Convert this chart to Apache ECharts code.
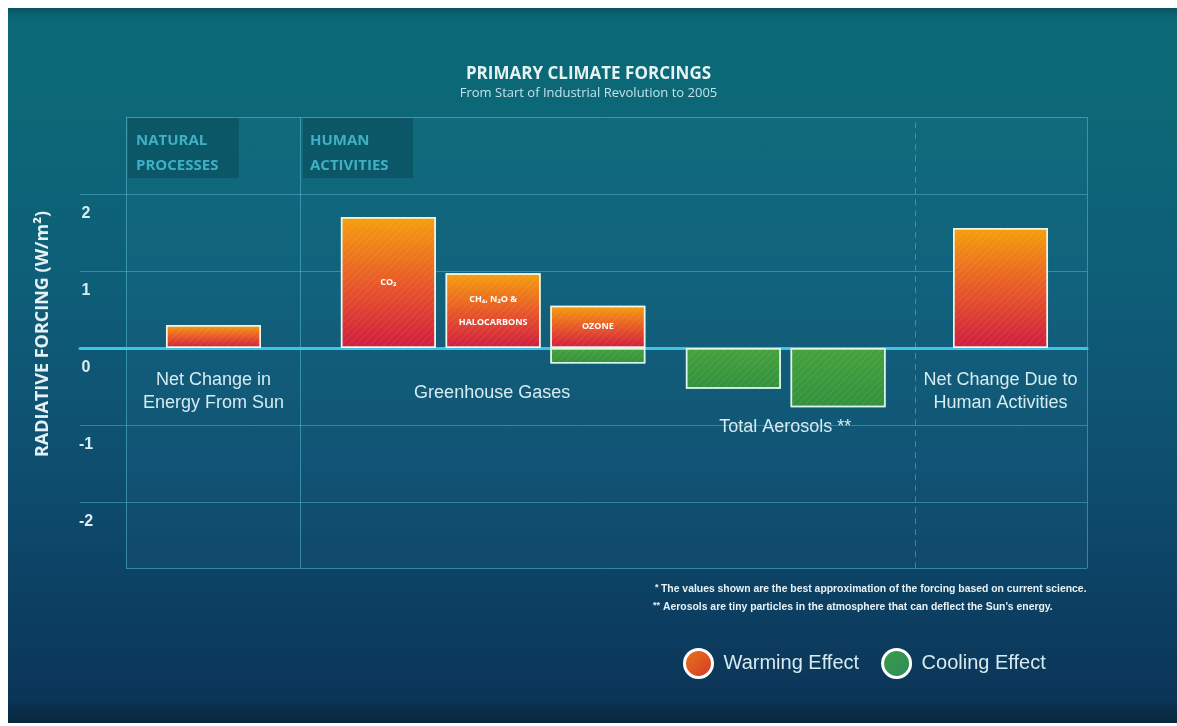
<!DOCTYPE html>
<html>
<head>
<meta charset="utf-8">
<title>Primary Climate Forcings</title>
<script src="https://cdn.jsdelivr.net/npm/echarts@6/dist/echarts.min.js"></script>
<style>
  html, body { margin: 0; padding: 0; background: #ffffff; }
  #wrap { position: relative; width: 1177px; height: 726px; overflow: hidden; }
  #bg {
    position: absolute; left: 8px; top: 8px; right: 0; bottom: 3px;
    background: linear-gradient(180deg, #0a5262 0px, #0b6876 10px, #0c6876 90px,
      #0e5e78 280px, #0e4f70 450px, #0c3f62 600px, #0b3558 690px, #08283f 712px);
  }
  #chart { position: absolute; left: 0; top: 0; width: 1177px; height: 726px; }
</style>
</head>
<body>
<div id="wrap"><div id="bg"></div><div id="chart"></div></div>
<script>
// ---- data -------------------------------------------------------------
// Forcing components, left to right
const forcings   = ['Sun', 'CO2', 'CH4, N2O & halocarbons', 'Ozone', 'Aerosols (direct)', 'Aerosols (cloud)', 'Net human'];
// Text printed inside each bar
const barLabels  = ['', 'CO₂', 'CH₄, N₂O &\nHALOCARBONS', 'OZONE', '', '', ''];
// Radiative forcing, W/m²: warming (positive) and cooling (negative) parts
const warming    = [0.30, 1.70, 0.97, 0.55, null, null, 1.56];
const cooling    = [null, null, null, -0.20, -0.53, -0.77, null];
// Group captions under the bars
const groupLabels = ['Net Change in\nEnergy From Sun', 'Greenhouse Gases', 'Total Aerosols **', 'Net Change Due to\nHuman Activities'];
// Value-axis tick labels
const yTickLabels = ['-2', '-1', '0', '1', '2'];

// ---- layout (x measured in percent of the panel width) ----------------
const barSlots    = [9.1, 27.3, 38.2, 49.1, 63.2, 74.1, 91.0];
const groupSlots  = [[9.1, -0.56], [38.1, -0.58], [68.6, -1.03], [91.0, -0.56]];
const panel       = { x0: 0, x1: 100, y0: -2.86, y1: 3 };
const humanDivider = 18.1;
const netDivider   = 82.1;

const FONT = "'Liberation Sans Narrow', 'Liberation Sans', sans-serif";
const GRID_C = 'rgba(96, 196, 222, 0.45)';

const warmFill = new echarts.graphic.LinearGradient(0, 0, 0, 1, [
  { offset: 0, color: '#f5a00c' },
  { offset: 0.5, color: '#e85a28' },
  { offset: 1, color: '#d01c40' }
]);
const coolFill = new echarts.graphic.LinearGradient(0, 0, 0, 1, [
  { offset: 0, color: '#46a23c' },
  { offset: 1, color: '#33913e' }
]);
const hatch = {
  symbol: 'rect', symbolSize: 1, dashArrayX: [1, 0], dashArrayY: [1, 4],
  rotation: -Math.PI / 4, color: 'rgba(255,255,255,0.08)'
};

function barData(values) {
  const out = [];
  values.forEach((v, i) => {
    if (v !== null) out.push({ name: barLabels[i], value: [barSlots[i], v] });
  });
  return out;
}

const chart = echarts.init(document.getElementById('chart'), null, { renderer: 'canvas' });

const option = {
  backgroundColor: 'transparent',
  animation: false,
  title: {
    text: 'PRIMARY CLIMATE FORCINGS',
    subtext: 'From Start of Industrial Revolution to 2005',
    left: 'center', top: 61, itemGap: 4,
    textStyle: { color: '#e6f3f4', fontSize: 17, fontWeight: 'bold', fontFamily: "'Open Sans', sans-serif" },
    subtextStyle: { color: '#c4e2e8', fontSize: 13, fontFamily: "'Open Sans', sans-serif" }
  },
  legend: {
    left: 678, top: 643, itemWidth: 28, itemHeight: 28, itemGap: 22,
    icon: 'circle',
    textStyle: { color: '#d6eaf0', fontSize: 20, fontFamily: FONT, padding: [0, 0, 0, 6] },
    data: [
      { name: 'Warming Effect', itemStyle: { color: new echarts.graphic.LinearGradient(0, 0, 1, 1, [{ offset: 0, color: '#ea7a14' }, { offset: 1, color: '#d2342c' }]), borderColor: '#ffffff', borderWidth: 3, decal: 'none' } },
      { name: 'Cooling Effect', itemStyle: { color: new echarts.graphic.LinearGradient(0, 0, 1, 1, [{ offset: 0, color: '#3e9a40' }, { offset: 1, color: '#2a8c62' }]), borderColor: '#ffffff', borderWidth: 3, decal: 'none' } }
    ]
  },
  grid: { left: 80, right: 90, top: 117, bottom: 147, containLabel: false },
  xAxis: {
    type: 'value', min: -4.79, max: 100,
    axisLine: { onZero: true, lineStyle: { color: '#3cc6e6', width: 3 } },
    axisTick: { show: false }, axisLabel: { show: false }, splitLine: { show: false }
  },
  yAxis: {
    type: 'value', min: -3, max: 3, interval: 1,
    axisLine: { show: false }, axisTick: { show: false },
    axisLabel: {
      inside: true, margin: 6, align: 'center', verticalAlign: 'top',
      padding: [12, 0, 0, 0], lineHeight: 16,
      color: '#d9edf2', fontSize: 16, fontWeight: 'bold', fontFamily: FONT,
      formatter: v => (yTickLabels.indexOf(String(v)) >= 0 ? String(v) : '')
    },
    splitLine: { show: true, showMinLine: false, showMaxLine: false, lineStyle: { color: GRID_C, width: 1 } }
  },
  graphic: [
    // panel headers
    { type: 'rect', left: 128, top: 118, shape: { width: 111, height: 60 }, style: { fill: 'rgba(4, 40, 56, 0.32)' }, silent: true },
    { type: 'rect', left: 303, top: 118, shape: { width: 110, height: 60 }, style: { fill: 'rgba(4, 40, 56, 0.32)' }, silent: true },
    { type: 'text', left: 136, top: 128, style: { text: 'NATURAL\nPROCESSES', fill: '#3fb2c4', font: "bold 15px 'Open Sans', sans-serif", lineHeight: 25 }, silent: true },
    { type: 'text', left: 310, top: 128, style: { text: 'HUMAN\nACTIVITIES', fill: '#3fb2c4', font: "bold 15px 'Open Sans', sans-serif", lineHeight: 25 }, silent: true },
    // value axis title
    { type: 'text', x: 43, y: 334, rotation: Math.PI / 2,
      style: { text: 'RADIATIVE FORCING (W/m²)', fill: '#e4f1f4', font: "bold 18px 'Open Sans', sans-serif", align: 'center', verticalAlign: 'middle' }, silent: true },
    // footnotes
    { type: 'text', left: 655, top: 583, style: { text: '*', fill: '#e8f2f4', font: "bold 9px " + FONT }, silent: true },
    { type: 'text', left: 661, top: 584, style: { text: 'The values shown are the best approximation of the forcing based on current science.', fill: '#e8f2f4', font: "bold 10.4px " + FONT }, silent: true },
    { type: 'text', left: 653, top: 601, style: { text: '**', fill: '#e8f2f4', font: "bold 9px " + FONT }, silent: true },
    { type: 'text', left: 663, top: 602, style: { text: "Aerosols are tiny particles in the atmosphere that can deflect the Sun's energy.", fill: '#e8f2f4', font: "bold 10.4px " + FONT }, silent: true }
  ],
  series: [
    {
      name: 'Warming Effect', type: 'bar', barWidth: 95, barGap: '-100%', z: 3,
      itemStyle: { color: warmFill, borderColor: 'rgba(240,246,232,0.92)', borderWidth: 1.5, decal: hatch },
      label: { show: true, position: 'inside', formatter: '{b}', color: '#ffffff', fontSize: 9, fontWeight: 'bold', lineHeight: 23, fontFamily: "'Open Sans', sans-serif" },
      data: barData(warming)
    },
    {
      name: 'Cooling Effect', type: 'bar', barWidth: 95, barGap: '-100%', z: 3,
      itemStyle: { color: coolFill, borderColor: 'rgba(220,246,232,0.92)', borderWidth: 1.5, decal: hatch },
      label: { show: false },
      data: barData(cooling)
    },
    {
      // panel frame, section dividers and group captions
      name: 'frame', type: 'scatter', data: [], z: 1, silent: true,
      markArea: {
        silent: true,
        itemStyle: { color: 'rgba(70, 170, 210, 0.06)' },
        data: [[{ coord: [panel.x0, panel.y0] }, { coord: [panel.x1, panel.y1] }]]
      },
      markLine: {
        silent: true, symbol: ['none', 'none'], label: { show: false },
        lineStyle: { color: 'rgba(96, 196, 222, 0.5)', width: 1, type: 'solid' },
        data: [
          [{ coord: [panel.x0, panel.y0] }, { coord: [panel.x0, panel.y1] }],
          [{ coord: [panel.x1, panel.y0] }, { coord: [panel.x1, panel.y1] }],
          [{ coord: [panel.x0, panel.y1] }, { coord: [panel.x1, panel.y1] }],
          [{ coord: [panel.x0, panel.y0] }, { coord: [panel.x1, panel.y0] }],
          [{ coord: [humanDivider, panel.y0] }, { coord: [humanDivider, panel.y1] }],
          [{ coord: [netDivider, panel.y0], lineStyle: { type: [6, 5], color: 'rgba(120, 205, 225, 0.45)' } }, { coord: [netDivider, panel.y1] }]
        ]
      },
      markPoint: {
        silent: true, symbol: 'circle', symbolSize: 1, itemStyle: { color: 'transparent' },
        label: { show: true, position: 'inside', color: '#d6ecf1', fontSize: 18, lineHeight: 23, fontFamily: FONT },
        data: groupSlots.map((p, i) => ({ coord: p, value: i, label: { formatter: groupLabels[i] } }))
      }
    }
  ]
};

chart.setOption(option);
</script>
</body>
</html>
